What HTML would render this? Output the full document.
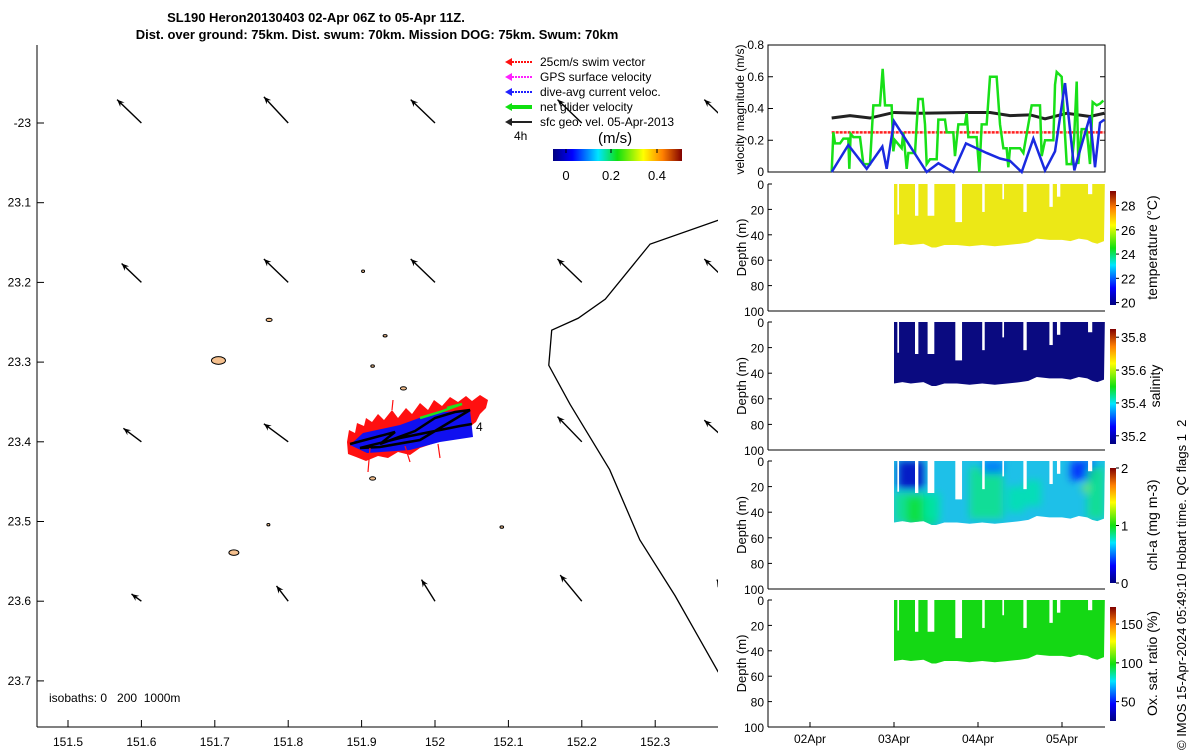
<!DOCTYPE html>
<html><head><meta charset="utf-8"><style>
html,body{margin:0;padding:0;background:#fff;width:1200px;height:750px;overflow:hidden}
svg{display:block;font-family:"Liberation Sans",sans-serif}
</style></head><body>
<svg id="fig" width="1200" height="750" viewBox="0 0 1200 750">
<defs>
<linearGradient id="jetH" x1="0" x2="1" y1="0" y2="0">
<stop offset="0" stop-color="#00007f"/><stop offset="0.15" stop-color="#0000ff"/><stop offset="0.35" stop-color="#00e5ff"/><stop offset="0.5" stop-color="#10e010"/><stop offset="0.7" stop-color="#ffff00"/><stop offset="0.85" stop-color="#ff8000"/><stop offset="1" stop-color="#800000"/></linearGradient>
<linearGradient id="jetV" x1="0" x2="0" y1="1" y2="0">
<stop offset="0" stop-color="#00007f"/><stop offset="0.15" stop-color="#0000ff"/><stop offset="0.35" stop-color="#00e5ff"/><stop offset="0.5" stop-color="#10e010"/><stop offset="0.7" stop-color="#ffff00"/><stop offset="0.85" stop-color="#ff8000"/><stop offset="1" stop-color="#800000"/></linearGradient>
<clipPath id="mapClip"><rect x="37" y="45" width="681" height="682"/></clipPath>
<filter id="soft" x="-20%" y="-20%" width="140%" height="140%"><feGaussianBlur stdDeviation="4"/></filter>
</defs>
<text x="316" y="22" text-anchor="middle" font-size="13" font-weight="bold">SL190 Heron20130403 02-Apr 06Z to 05-Apr 11Z.</text>
<text x="377" y="39" text-anchor="middle" font-size="13" font-weight="bold">Dist. over ground: 75km. Dist. swum: 70km. Mission DOG: 75km. Swum: 70km</text>
<g id="map"></g>
<g id="right"></g>
<text transform="translate(1186,750) rotate(-90)" font-size="13">© IMOS 15-Apr-2024 05:49:10 Hobart time. QC flags 1&#160; 2</text>
</svg>
<script>
// ---------- MAP DATA ----------
const lonTicks=[151.5,151.6,151.7,151.8,151.9,152,152.1,152.2,152.3];
const lonTickLabels=["151.5","151.6","151.7","151.8","151.9","152","152.1","152.2","152.3"];
const latTicks=[-23,-23.1,-23.2,-23.3,-23.4,-23.5,-23.6,-23.7];
const latTickLabels=["-23","23.1","23.2","23.3","23.4","23.5","23.6","23.7"];
const quivLon=[151.6,151.8,152.0,152.2,152.4];
const quivLat=[-23,-23.2,-23.4,-23.6];
const quivU=[[-0.27,-0.27,-0.27,-0.27,-0.27],[-0.22,-0.27,-0.27,-0.27,-0.27],[-0.2,-0.27,-0.27,-0.27,-0.27],[-0.11,-0.13,-0.15,-0.24,-0.13]];
const quivV=[[0.26,0.29,0.26,0.26,0.26],[0.21,0.26,0.26,0.26,0.26],[0.15,0.2,0.23,0.28,0.24],[0.08,0.17,0.24,0.29,0.24]];
const coastLon=[152.386,152.293,152.232,152.195,152.159,152.155,152.184,152.238,152.279,152.327,152.386];
const coastLat=[-23.122,-23.152,-23.221,-23.245,-23.260,-23.304,-23.353,-23.435,-23.523,-23.593,-23.689];
const reefLon=[151.705,151.774,151.902,151.932,151.915,151.957,151.915,151.773,151.726,152.091];
const reefLat=[-23.298,-23.247,-23.186,-23.267,-23.305,-23.333,-23.446,-23.504,-23.539,-23.507];
const reefSize=[7,3,1.5,2,1.8,3,3,1.5,5,1.8];
const xLon=l=>68+(l-151.5)*734;
const yLat=l=>123+(-23-l)*797;

// ---------- TIME SERIES DATA (days since 02-Apr 00Z) ----------
const dayTicks=[0,1,2,3];
const dayTickLabels=["02Apr","03Apr","04Apr","05Apr"];
const velBlackT=[0.258,0.476,0.714,1.0,1.310,1.865,2.143,2.381,2.619,2.798,3.056,3.333,3.504];
const velBlackV=[0.34,0.355,0.34,0.375,0.37,0.375,0.375,0.355,0.36,0.335,0.37,0.35,0.37];
const velRedT=[0.258,3.504];
const velRedV=[0.25,0.25];
const velBlueT=[0.258,0.456,0.675,0.861,0.913,1.0,1.389,1.528,1.706,1.857,2.103,2.262,2.381,2.520,2.659,2.798,2.917,3.036,3.147,3.194,3.333,3.393,3.452,3.504];
const velBlueV=[0,0.17,0.02,0.16,0.02,0.32,0,0.055,0,0.18,0.12,0.085,0.07,0,0.21,0.01,0.13,0.56,0.01,0.1,0.35,0.03,0.31,0.33];
const velGreenT=[0.258,0.278,0.298,0.357,0.397,0.456,0.468,0.484,0.516,0.595,0.635,0.714,0.754,0.833,0.865,0.893,0.972,0.992,1.012,1.091,1.111,1.151,1.171,1.250,1.270,1.290,1.341,1.369,1.389,1.429,1.508,1.528,1.607,1.627,1.706,1.726,1.766,1.845,1.865,1.885,1.984,2.016,2.044,2.103,2.143,2.222,2.262,2.302,2.341,2.361,2.381,2.500,2.540,2.639,2.738,2.758,2.798,2.897,2.917,2.937,2.996,3.056,3.115,3.143,3.175,3.194,3.234,3.294,3.333,3.365,3.413,3.452,3.492];
const velGreenV=[0,0.25,0.18,0.18,0.21,0.21,0.02,0.24,0.22,0.22,0.05,0.05,0.42,0.42,0.65,0.42,0.42,0.13,0.2,0.15,0.25,0.02,0.12,0.12,0.3,0.46,0.46,0.3,0.05,0.08,0.08,0.33,0.33,0.25,0.25,0.1,0.3,0.3,0.37,0.22,0.22,0,0.3,0.3,0.6,0.6,0.3,0.15,0.15,0.03,0.15,0.15,0.12,0.42,0.42,0.1,0.2,0.2,0.55,0.63,0.6,0.05,0.05,0.2,0.57,0.05,0.27,0.27,0.05,0.44,0.42,0.43,0.45];
// CTD section envelope (max dive depth) and surface gaps
const envT=[1.0,1.1,1.2,1.35,1.45,1.5,1.6,1.75,1.9,2.05,2.2,2.35,2.5,2.6,2.7,2.85,3.0,3.1,3.2,3.3,3.36,3.42,3.5,3.51];
const envD=[48,47,48,47,50,50,48,48,49,48,49,48,47,46,43,44,44,45,43,44,46,47,45,0];
const gapT0=[1.04,1.25,1.40,1.73,2.05,2.29,2.54,2.85,2.94,3.31];
const gapT1=[1.06,1.29,1.48,1.81,2.08,2.31,2.58,2.89,2.98,3.36];
const gapD=[24,25,25,30,22,12,22,18,10,8];
// chl-a patches: start day, end day, top depth, bottom depth, value
const chlT0=[1.0,1.05,1.15,1.35,1.9,2.05,2.35,2.55,3.1,3.3,3.25];
const chlT1=[1.5,1.35,1.5,1.55,2.3,2.3,2.55,2.75,3.4,3.51,3.3];
const chlD0=[25,0,28,25,5,0,20,15,0,5,18];
const chlD1=[48,22,50,47,45,10,40,35,15,45,24];
const chlV=[0.85,0.15,0.95,0.8,0.85,0.5,0.8,0.8,0.35,0.85,1.25];

const NS="http://www.w3.org/2000/svg";
function mk(tag,attrs,parent,txt){const e=document.createElementNS(NS,tag);for(const k in attrs)e.setAttribute(k,attrs[k]);if(txt!==undefined)e.textContent=txt;parent.appendChild(e);return e;}

// ---------- MAP ----------
const map=document.getElementById('map');
const mc=mk('g',{'clip-path':'url(#mapClip)'},map);
let cp=coastLon.map((l,i)=>xLon(l)+','+yLat(coastLat[i])).join(' ');
const coast=mk('polyline',{points:cp,fill:'none',stroke:'#000','stroke-width':1.3},mc);


reefLon.forEach((l,i)=>{const r=reefSize[i];const e=mk('ellipse',{cx:xLon(l),cy:yLat(reefLat[i]),rx:r,ry:Math.max(1.2,r*0.55),fill:'#f5c08e',stroke:'#000','stroke-width':1},mc);

});
const S=90;
quivLat.forEach((la,r)=>quivLon.forEach((lo,c)=>{
 const x0=xLon(lo),y0=yLat(la),x1=x0+quivU[r][c]*S,y1=y0-quivV[r][c]*S;
 const g=mk('g',{},mc);
 
 
 mk('line',{x1:x0,y1:y0,x2:x1,y2:y1,stroke:'#000','stroke-width':1.4},g);
 const a=Math.atan2(y1-y0,x1-x0),h=8;
 const p=[[x1,y1],[x1-h*Math.cos(a-0.4),y1-h*Math.sin(a-0.4)],[x1-h*0.6*Math.cos(a),y1-h*0.6*Math.sin(a)],[x1-h*Math.cos(a+0.4),y1-h*Math.sin(a+0.4)]];
 mk('polygon',{points:p.map(q=>q.join(',')).join(' '),fill:'#000'},g);
}));
// glider track
const gt=mk('g',{},mc);


mk('polygon',{points:'347,442 349,430 355,433 357,423 364,426 366,418 372,422 378,414 384,420 392,410 398,418 406,408 412,414 420,403 428,410 434,400 442,406 450,397 458,402 466,396 472,401 480,395 488,400 486,408 480,414 476,422 468,428 455,437 438,442 420,448 410,455 398,452 388,458 378,456 366,461 356,457 348,454',fill:'#ff1010'},gt);
mk('polygon',{points:'350,445 363,433 400,425 433,413 470,410 473,437 440,442 410,450 367,453',fill:'#1010f0'},gt);
mk('polyline',{points:'350,444 395,432 380,444 415,431 435,418 455,412 470,410 420,440 380,447 360,448 400,438 460,426 472,424',fill:'none',stroke:'#000','stroke-width':2.5},gt);
mk('polyline',{points:'420,418 440,412 462,404 447,408',fill:'none',stroke:'#20e020','stroke-width':2.5},gt);
[[370,448,368,472],[405,446,410,462],[438,444,440,458],[392,410,393,400]].forEach(p=>mk('line',{x1:p[0],y1:p[1],x2:p[2],y2:p[3],stroke:'#ff1010','stroke-width':1.2},gt));
mk('text',{x:476,y:431,'font-size':12},gt,'4');
// axes
mk('line',{x1:37,y1:45,x2:37,y2:727,stroke:'#000','stroke-width':1},map);
mk('line',{x1:37,y1:727,x2:718,y2:727,stroke:'#000','stroke-width':1},map);
lonTicks.forEach((l,i)=>{const x=xLon(l);mk('line',{x1:x,y1:727,x2:x,y2:720,stroke:'#000'},map);
 const t=mk('text',{x:x,y:746,'text-anchor':'middle','font-size':12},map,lonTickLabels[i]);
 
 });
latTicks.forEach((l,i)=>{const y=yLat(l);mk('line',{x1:37,y1:y,x2:44,y2:y,stroke:'#000'},map);
 const t=mk('text',{x:31,y:y+4,'text-anchor':'end','font-size':12},map,latTickLabels[i]);
 
 });
mk('text',{x:49,y:702,'font-size':12},map,'isobaths: 0\u00a0\u00a0 200\u00a0 1000m');
// legend
const leg=mk('g',{},map);


const legCols=['#ff1010','#ff20ff','#2020ff','#10e010','#222'];
const legTxt=['25cm/s swim vector','GPS surface velocity','dive-avg current veloc.','net glider velocity','sfc geo. vel. 05-Apr-2013'];
legTxt.forEach((t,i)=>{const y=62+i*15;
 mk('line',{x1:509,y1:y,x2:532,y2:y,stroke:legCols[i],'stroke-width':i==3?4:2,'stroke-dasharray':i<3?'2,1':''},leg);
 mk('polygon',{points:`505,${y} 512,${y-4} 512,${y+4}`,fill:legCols[i]},leg);
 mk('text',{x:540,y:y+4,'font-size':12},leg,t);});
mk('text',{x:514,y:140,'font-size':12},leg,'4h');
mk('text',{x:598,y:143,'font-size':15},leg,'(m/s)');
mk('rect',{x:553,y:149,width:129,height:12,fill:'url(#jetH)'},leg);
[['0',566],['0.2',611],['0.4',657]].forEach(p=>{mk('line',{x1:p[1],y1:149,x2:p[1],y2:153,stroke:'#000'},leg);mk('text',{x:p[1],y:180,'text-anchor':'middle','font-size':13},leg,p[0]);});

// ---------- RIGHT PANELS ----------
const R=document.getElementById('right');
const xL=768,xR=1105;
const xDay=d=>810+84*d;
const vT=45,vB=172;const yVel=v=>vB-(v/0.8)*(vB-vT);
const vp=mk('g',{},R);


mk('rect',{x:xL,y:vT,width:xR-xL,height:vB-vT,fill:'none',stroke:'#000'},vp);
[0,0.2,0.4,0.6,0.8].forEach(v=>{const y=yVel(v);mk('line',{x1:xL,y1:y,x2:xL+5,y2:y,stroke:'#000'},vp);mk('line',{x1:xR,y1:y,x2:xR-5,y2:y,stroke:'#000'},vp);
 mk('text',{x:xL-4,y:y+4,'text-anchor':'end','font-size':12},vp,v===0?'0':String(v));});
mk('text',{transform:`translate(744,${(vT+vB)/2+1}) rotate(-90)`,'text-anchor':'middle','font-size':12},vp,'velocity magnitude (m/s)');
function line(T,V,col,w,dash,name){const l=mk('polyline',{points:T.map((t,i)=>xDay(t)+','+yVel(V[i])).join(' '),fill:'none',stroke:col,'stroke-width':w,'stroke-dasharray':dash||''},vp);
 
 }
line(velRedT,velRedV,'#ff2020',2.5,'3,1','swim-speed-line');
line(velBlackT,velBlackV,'#222',3,'','geostrophic-speed-line');
line(velGreenT,velGreenV,'#18e018',2.5,'','net-glider-speed-line');
line(velBlueT,velBlueV,'#1a2ae0',2.5,'','dive-avg-current-line');

const panels=[{t:184,b:311,col:'#ece816',cb:[19.8,29.2],ticks:[20,22,24,26,28],lab:'temperature (°C)',name:'temperature-panel'},
 {t:322,b:450,col:'#0a0a80',cb:[35.15,35.85],ticks:[35.2,35.4,35.6,35.8],lab:'salinity',name:'salinity-panel'},
 {t:461,b:589,col:'#1ec0e8',cb:[0,2],ticks:[0,1,2],lab:'chl-a (mg m-3)',name:'chlorophyll-panel'},
 {t:600,b:727,col:'#14d814',cb:[25,172],ticks:[50,100,150],lab:'Ox. sat. ratio (%)',name:'oxygen-panel'}];
const jetStops=[[0,[0,0,127]],[0.15,[0,0,255]],[0.35,[0,229,255]],[0.5,[16,224,16]],[0.7,[255,255,0]],[0.85,[255,128,0]],[1,[128,0,0]]];
function jet(f){f=Math.max(0,Math.min(1,f));for(let i=1;i<jetStops.length;i++){if(f<=jetStops[i][0]){const a=jetStops[i-1],b=jetStops[i],u=(f-a[0])/(b[0]-a[0]);return 'rgb('+a[1].map((c,k)=>Math.round(c+(b[1][k]-c)*u)).join(',')+')';}}return 'rgb(128,0,0)';}
const defs=document.querySelector('defs');
panels.forEach((P,pi)=>{
 const g=mk('g',{},R);
 
 
 const yD=d=>P.t+(d/100)*(P.b-P.t);
 let pts=[xDay(envT[0])+','+yD(0)];envT.forEach((t,i)=>pts.push(xDay(t)+','+yD(envD[i])));pts.push(xDay(envT[envT.length-1])+','+yD(0));
 mk('polygon',{points:pts.join(' '),fill:P.col},g);
 if(pi===2){
  const cpth=mk('clipPath',{id:'envClip'},defs);
  mk('polygon',{points:pts.join(' ')},cpth);
  const pg=mk('g',{'clip-path':'url(#envClip)'},g);
  const pb=mk('g',{filter:'url(#soft)'},pg);
  chlT0.forEach((t,i)=>{const r=mk('rect',{x:xDay(t),y:yD(chlD0[i]),width:xDay(chlT1[i])-xDay(t),height:yD(chlD1[i])-yD(chlD0[i]),fill:jet(chlV[i]/2),opacity:0.85},pb);
  
  });}
 gapT0.forEach((t,i)=>mk('rect',{x:xDay(t),y:yD(0)-1,width:xDay(gapT1[i])-xDay(t),height:yD(gapD[i])-yD(0)+1,fill:'#fff'},g));
 mk('line',{x1:xL,y1:P.t,x2:xL,y2:P.b,stroke:'#000'},g);
 mk('line',{x1:xL,y1:P.b,x2:xR,y2:P.b,stroke:'#000'},g);
 [0,20,40,60,80,100].forEach(d=>{const y=yD(d);mk('line',{x1:xL,y1:y,x2:xL+4,y2:y,stroke:'#000'},g);mk('text',{x:xL-4,y:y+5,'text-anchor':'end','font-size':12},g,String(d));});
 mk('text',{transform:`translate(746,${(P.t+P.b)/2}) rotate(-90)`,'text-anchor':'middle','font-size':13},g,'Depth (m)');
 const ct=P.t+7,cbb=P.b-6;
 mk('rect',{x:1110,y:ct,width:6,height:cbb-ct,fill:'url(#jetV)'},g);
 P.ticks.forEach(v=>{const y=cbb-(v-P.cb[0])/(P.cb[1]-P.cb[0])*(cbb-ct);mk('line',{x1:1116,y1:y,x2:1119,y2:y,stroke:'#000'},g);mk('text',{x:1121,y:y+5,'font-size':13},g,String(v));});
 mk('text',{transform:`translate(${pi===1?1160:1157},${(P.t+P.b)/2}) rotate(-90)`,'text-anchor':'middle','font-size':14},g,P.lab);
});
dayTicks.forEach((d,i)=>{const x=xDay(d);mk('line',{x1:x,y1:727,x2:x,y2:722,stroke:'#000'},R);
 const t=mk('text',{x:x,y:743,'text-anchor':'middle','font-size':12},R,dayTickLabels[i]);
 
 });
</script>
</body></html>
